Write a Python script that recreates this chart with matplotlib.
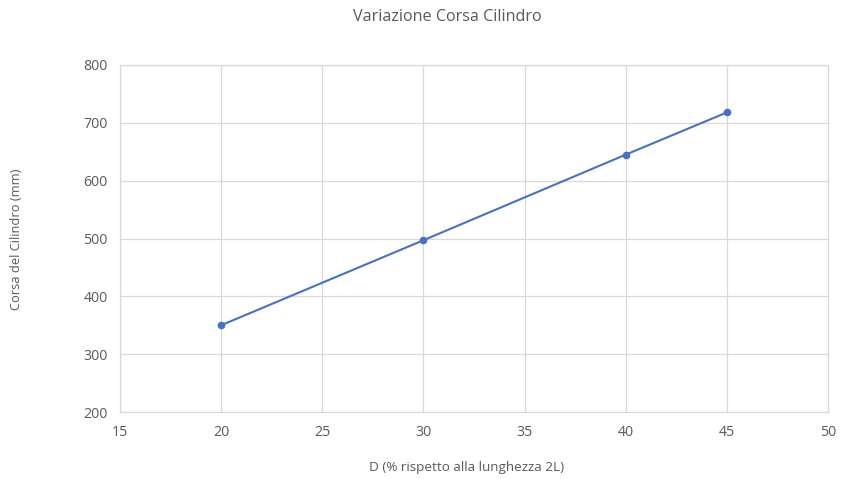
import matplotlib
matplotlib.use('Agg')
from matplotlib import pyplot as plt

# Dati
d_percent = [20, 30, 40, 45]
corsa_mm = [350, 497, 645, 718]

x_ticks = [15, 20, 25, 30, 35, 40, 45, 50]
y_ticks = [200, 300, 400, 500, 600, 700, 800]

LINE_COLOR = '#4472C4'
GRID_COLOR = '#D9D9D9'
TEXT_COLOR = '#595959'

plt.rcParams['font.family'] = ['Open Sans', 'DejaVu Sans']

fig = plt.figure(figsize=(8.5, 4.79), dpi=100)
ax = fig.add_axes([120 / 850, 1 - 412 / 479, 708 / 850, 347 / 479])

ax.plot(d_percent, corsa_mm, color=LINE_COLOR, linewidth=1.5,
        marker='o', markersize=4.5, zorder=3)

ax.set_xlim(15, 50)
ax.set_ylim(200, 800)
ax.set_xticks(x_ticks)
ax.set_yticks(y_ticks)
ax.grid(True, color=GRID_COLOR, linewidth=0.9)
ax.set_axisbelow(True)

for side in ax.spines.values():
    side.set_color(GRID_COLOR)
    side.set_linewidth(0.9)

ax.tick_params(length=0, labelsize=10.2, colors=TEXT_COLOR, pad=9)

fig.text(447 / 850, 1 - 17 / 479, 'Variazione Corsa Cilindro',
         ha='center', va='center', fontsize=11.6, color=TEXT_COLOR)
fig.text(467 / 850, 1 - 467 / 479, 'D (% rispetto alla lunghezza 2L)',
         ha='center', va='center', fontsize=9.7, color=TEXT_COLOR)
fig.text(17 / 850, 1 - 239 / 479, 'Corsa del Cilindro (mm)',
         ha='center', va='center', rotation=90, fontsize=9.3, color=TEXT_COLOR)

fig.savefig('out.png', dpi=100)
